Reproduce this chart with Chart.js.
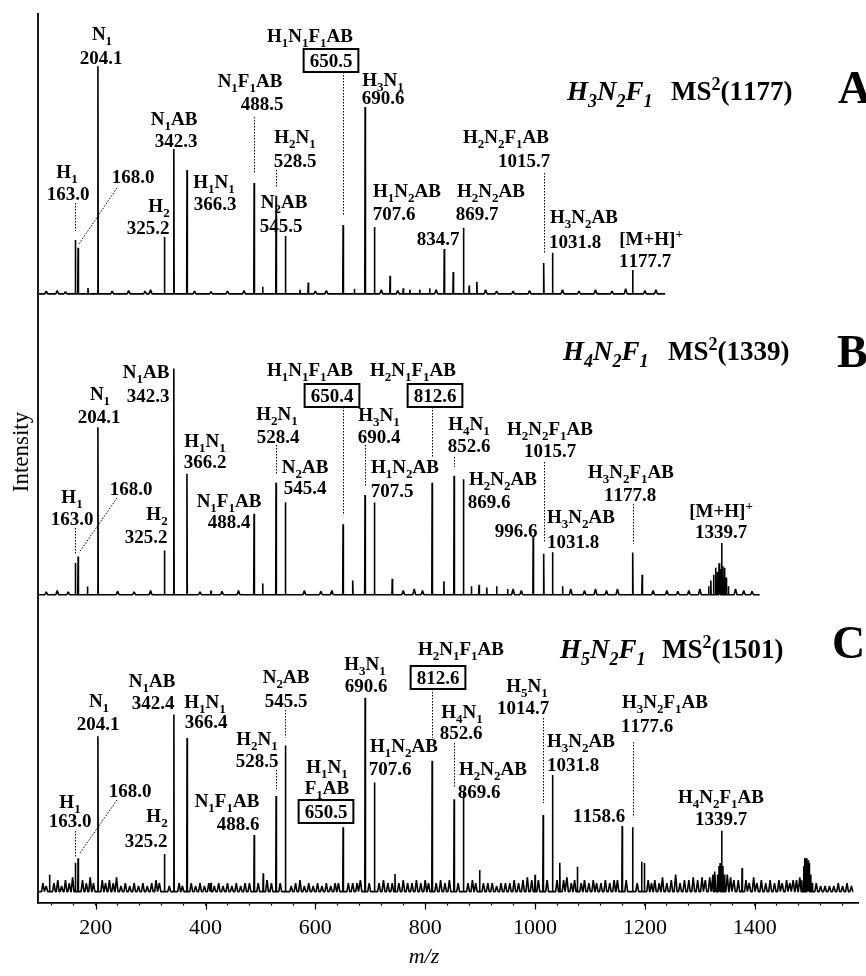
<!DOCTYPE html>
<html>
<head>
<meta charset="utf-8">
<script src="https://cdn.jsdelivr.net/npm/chart.js@4.4.1/dist/chart.umd.min.js"></script>
<style>
  html, body { margin: 0; padding: 0; background: #fff; }
</style>
</head>
<body>
<canvas id="chart" width="866" height="976"></canvas>
<script>
// ================= DATA =================
// panel A : H3N2F1 MS2(1177)
const mzA  = [163.0, 168.0, 186, 204.1, 325.2, 342.3, 366.3, 488.5, 504, 528.5, 545.5, 572, 587, 650.5, 671, 690.6, 707.6, 736, 760, 772, 790, 808, 834.7, 851, 869.7, 880, 894, 1015.7, 1031.8, 1177.7];
const intA = [19.2, 16.4, 2.1, 81, 20.3, 51.6, 44.1, 39.5, 2.5, 34.9, 20.6, 1.5, 4, 24.5, 1.8, 66.5, 23.8, 6.4, 2, 1.5, 1.5, 2, 16, 7.8, 23.5, 3, 4.3, 11, 14.6, 8.5];
const noiseA = [[110, 1], [130, 1.2], [145, 0.8], [230, 1], [260, 1.2], [290, 1], [300, 1.5], [380, 1], [410, 0.8], [440, 1], [470, 1.2],
  [600, 1], [620, 1.2], [720, 1.5], [750, 1.2], [820, 1.5], [910, 1.5], [930, 1], [960, 1], [990, 1.2], [1050, 1.5], [1080, 1],
  [1110, 1.5], [1140, 1], [1165, 1.8], [1200, 1.2], [1220, 1.5]];

// panel B : H4N2F1 MS2(1339)
const mzB  = [163.0, 168.0, 185, 204.1, 325.2, 342.3, 366.2, 410, 488.4, 504, 528.4, 545.4, 650.4, 668, 690.4, 707.5, 740, 812.6, 834, 852.6, 869.6, 884, 898, 912, 930, 950,
  996.6, 1015.7, 1031.8, 1050, 1177.8, 1195, 1316, 1320, 1325, 1329, 1332, 1335, 1337, 1339.7, 1342, 1345, 1348, 1352];
const intB = [11.1, 13.4, 2.9, 58.7, 15.5, 79.3, 42.4, 1.5, 28.4, 3.9, 39.3, 32.4, 24.7, 5, 35, 32.3, 5.6, 39.3, 4.7, 41.7, 40.5, 3, 3.5, 2.5, 3, 2,
  20.8, 14.4, 14.9, 3, 14.8, 7, 3, 5, 7, 9.5, 8, 11, 9, 18.1, 10, 9.5, 6, 3];
const noiseB = [[110, 1], [130, 1.5], [150, 1], [240, 1.2], [270, 1], [300, 1.5], [390, 1], [430, 1.2], [460, 1.5], [580, 1.5], [610, 1.2],
  [630, 1.5], [760, 1.5], [780, 2], [795, 1.5], [960, 2], [975, 1.5], [1065, 2], [1090, 1.5], [1110, 2], [1130, 1.5], [1150, 2],
  [1215, 1.5], [1240, 1.5], [1260, 1.2], [1280, 1.5], [1300, 2], [1365, 2], [1380, 1.5], [1395, 1.2]];

// panel C : H5N2F1 MS2(1501)
const mzC  = [116, 163.0, 168.0, 204.1, 325.2, 342.4, 366.4, 410, 488.6, 505, 528.5, 545.5, 650.5, 690.6, 707.6, 745, 812.6, 852.6, 869.6, 899,
  1000, 1014.7, 1031.8, 1045, 1077, 1158.6, 1177.6, 1194, 1199, 1332, 1335, 1337, 1339.7, 1342, 1345, 1377,
  1486, 1489, 1491, 1493, 1495, 1497, 1499, 1502, 1505];
const intC = [5.9, 10.1, 11.7, 54.4, 13.2, 62, 53.8, 3.1, 19.8, 6.4, 33.5, 51.2, 22.5, 67.9, 38.2, 6.2, 45.8, 32.3, 35, 7.6,
  5.9, 26.8, 40.8, 10.1, 8.7, 23, 22.5, 10.5, 10, 6, 9, 10, 21.3, 9, 6, 8.3,
  4, 9, 11.8, 11.5, 11.8, 11, 10, 6, 3];
const noiseC = [[104, 3], [110, 2], [124, 3], [131, 4], [138, 2], [145, 4], [152, 3], [158, 5], [176, 4], [183, 3], [190, 5], [196, 3],
  [212, 4], [218, 3], [225, 4], [232, 3], [238, 5], [246, 2], [254, 3], [262, 2], [270, 3], [278, 2], [286, 3], [294, 2], [302, 3],
  [310, 4], [316, 3], [334, 2], [352, 3], [358, 2], [374, 3], [382, 2], [390, 3], [398, 2], [406, 3], [416, 2], [424, 3], [432, 2],
  [440, 3], [448, 2], [456, 3], [464, 2], [472, 3], [480, 3], [496, 3], [512, 4], [520, 3], [536, 3], [556, 2], [564, 3], [572, 4],
  [580, 2], [588, 3], [596, 2], [604, 3], [612, 2], [620, 3], [628, 2], [636, 3], [642, 3], [660, 3], [668, 3], [676, 3], [682, 4],
  [698, 3], [716, 3], [724, 4], [732, 3], [740, 3], [752, 3], [760, 4], [768, 3], [776, 3], [784, 4], [792, 3], [800, 4], [806, 3],
  [820, 3], [828, 4], [836, 3], [844, 4], [860, 3], [878, 3], [886, 4], [892, 3], [906, 3], [914, 3], [922, 3], [930, 2], [938, 3],
  [946, 3], [954, 3], [962, 4], [970, 3], [978, 4], [986, 5], [994, 4], [1006, 4], [1022, 4], [1040, 4], [1052, 4], [1058, 5],
  [1066, 3], [1072, 4], [1084, 3], [1090, 4], [1098, 3], [1106, 4], [1112, 3], [1120, 3], [1128, 4], [1136, 3], [1144, 4], [1150, 4],
  [1166, 4], [1186, 3], [1206, 4], [1212, 3], [1218, 4], [1226, 3], [1232, 5], [1240, 3], [1248, 4], [1256, 6], [1264, 3], [1272, 4],
  [1280, 4], [1288, 5], [1296, 4], [1304, 5], [1310, 4], [1318, 5], [1324, 6], [1327, 7], [1350, 6], [1356, 5], [1362, 4], [1370, 4],
  [1384, 4], [1390, 3], [1398, 5], [1404, 3], [1412, 4], [1420, 3], [1428, 4], [1436, 3], [1444, 4], [1450, 3], [1458, 4], [1464, 3],
  [1470, 4], [1476, 4], [1482, 5], [1512, 3], [1520, 2], [1528, 2], [1536, 2], [1544, 2], [1552, 3], [1560, 2], [1568, 3], [1576, 2]];

// where each recorded trace starts / stops on the m/z axis
const rangeA = [97, 1237];
const rangeB = [97, 1409];
const rangeC = [97, 1579];

const xTicks = [200, 400, 600, 800, 1000, 1200, 1400];

// ================= LABELS (layout) =================
// lines: [text, centre x, baseline y]; box: index of boxed line; lead: top of dotted leader; diag: start of slanted leader
const notesA = [
  { mz: 163.0, lines: [["H_1", 67, 178], ["163.0", 68, 200]], lead: 203 },
  { mz: 168.0, lines: [["168.0", 133, 183]], diag: [117, 188] },
  { mz: 204.1, lines: [["N_1", 102, 40], ["204.1", 101, 64]] },
  { mz: 342.3, lines: [["N_1AB", 174, 125], ["342.3", 176, 147]] },
  { mz: 325.2, lines: [["H_2", 159, 212], ["325.2", 148, 234]] },
  { mz: 366.3, lines: [["H_1N_1", 214, 188], ["366.3", 215, 210]] },
  { mz: 488.5, lines: [["N_1F_1AB", 250, 87], ["488.5", 262, 110]], lead: 117 },
  { mz: 528.5, lines: [["H_2N_1", 295, 143], ["528.5", 295, 167]], lead: 170 },
  { mz: 545.5, lines: [["N_2AB", 284, 208], ["545.5", 281, 232]] },
  { mz: 650.5, lines: [["H_1N_1F_1AB", 310, 42], ["650.5", 331, 67]], box: 1, lead: 72 },
  { mz: 690.6, lines: [["H_3N_1", 383, 86], ["690.6", 383, 104]] },
  { mz: 707.6, lines: [["H_1N_2AB", 407, 197], ["707.6", 394, 220]] },
  { mz: 834.7, lines: [["834.7", 438, 245]] },
  { mz: 869.7, lines: [["H_2N_2AB", 491, 197], ["869.7", 477, 220]] },
  { mz: 1015.7, lines: [["H_2N_2F_1AB", 506, 143], ["1015.7", 524, 167]], lead: 173 },
  { mz: 1031.8, lines: [["H_3N_2AB", 584, 223], ["1031.8", 575, 248]] },
  { mz: 1177.7, lines: [["[M+H]^+", 651, 245], ["1177.7", 645, 267]] }
];

const notesB = [
  { mz: 163.0, lines: [["H_1", 72, 503], ["163.0", 72, 525]], lead: 528 },
  { mz: 168.0, lines: [["168.0", 131, 495]], diag: [117, 498] },
  { mz: 204.1, lines: [["N_1", 100, 400], ["204.1", 99, 423]] },
  { mz: 342.3, lines: [["N_1AB", 146, 378], ["342.3", 148, 402]] },
  { mz: 325.2, lines: [["H_2", 157, 520], ["325.2", 146, 543]] },
  { mz: 366.2, lines: [["H_1N_1", 205, 447], ["366.2", 205, 468]] },
  { mz: 488.4, lines: [["N_1F_1AB", 229, 507], ["488.4", 229, 528]] },
  { mz: 528.4, lines: [["H_2N_1", 277, 420], ["528.4", 278, 443]], lead: 445 },
  { mz: 545.4, lines: [["N_2AB", 305, 473], ["545.4", 305, 494]] },
  { mz: 650.4, lines: [["H_1N_1F_1AB", 310, 376], ["650.4", 332, 402]], box: 1, lead: 407 },
  { mz: 690.4, lines: [["H_3N_1", 379, 421], ["690.4", 379, 443]], lead: 445 },
  { mz: 707.5, lines: [["H_1N_2AB", 405, 473], ["707.5", 392, 497]] },
  { mz: 812.6, lines: [["H_2N_1F_1AB", 413, 376], ["812.6", 435, 402]], box: 1, lead: 407, gap: 25 },
  { mz: 852.6, lines: [["H_4N_1", 469, 430], ["852.6", 469, 452]], lead: 457 },
  { mz: 869.6, lines: [["H_2N_2AB", 503, 485], ["869.6", 489, 508]] },
  { mz: 1015.7, lines: [["H_2N_2F_1AB", 550, 435], ["1015.7", 550, 457]], lead: 462, gap: 12 },
  { mz: 996.6, lines: [["996.6", 516, 537]] },
  { mz: 1031.8, lines: [["H_3N_2AB", 581, 523], ["1031.8", 573, 548]] },
  { mz: 1177.8, lines: [["H_3N_2F_1AB", 631, 478], ["1177.8", 630, 501]], lead: 504 },
  { mz: 1339.7, lines: [["[M+H]^+", 721, 517], ["1339.7", 721, 538]] }
];

const notesC = [
  { mz: 163.0, lines: [["H_1", 70, 808], ["163.0", 70, 827]], lead: 831, gap: 6 },
  { mz: 168.0, lines: [["168.0", 130, 797]], diag: [117, 800] },
  { mz: 204.1, lines: [["N_1", 99, 707], ["204.1", 98, 730]] },
  { mz: 342.4, lines: [["N_1AB", 152, 687], ["342.4", 153, 709]] },
  { mz: 325.2, lines: [["H_2", 157, 822], ["325.2", 146, 847]] },
  { mz: 366.4, lines: [["H_1N_1", 205, 708], ["366.4", 206, 728]] },
  { mz: 488.6, lines: [["N_1F_1AB", 227, 807], ["488.6", 238, 830]] },
  { mz: 528.5, lines: [["H_2N_1", 257, 745], ["528.5", 257, 767]], lead: 770, gap: 7 },
  { mz: 545.5, lines: [["N_2AB", 286, 683], ["545.5", 286, 707]], lead: 710, gap: 8 },
  { mz: 650.5, lines: [["H_1N_1", 327, 773], ["F_1AB", 327, 794], ["650.5", 326, 818]], box: 2 },
  { mz: 690.6, lines: [["H_3N_1", 365, 670], ["690.6", 366, 692]] },
  { mz: 707.6, lines: [["H_1N_2AB", 404, 752], ["707.6", 390, 775]] },
  { mz: 812.6, lines: [["H_2N_1F_1AB", 461, 655], ["812.6", 438, 684]], box: 1, lead: 689, gap: 23 },
  { mz: 852.6, lines: [["H_4N_1", 462, 718], ["852.6", 461, 739]], lead: 743, gap: 12 },
  { mz: 869.6, lines: [["H_2N_2AB", 493, 775], ["869.6", 479, 798]] },
  { mz: 1014.7, lines: [["H_5N_1", 527, 692], ["1014.7", 523, 714]], lead: 718, gap: 12 },
  { mz: 1031.8, lines: [["H_3N_2AB", 581, 747], ["1031.8", 573, 771]] },
  { mz: 1158.6, lines: [["1158.6", 599, 822]] },
  { mz: 1177.6, lines: [["H_3N_2F_1AB", 665, 708], ["1177.6", 647, 732]], lead: 742, gap: 10 },
  { mz: 1339.7, lines: [["H_4N_2F_1AB", 721, 803], ["1339.7", 721, 825]] }
];

// panel titles: formula, MS text, letter and where they sit
const titles = [
  { f: "H_3N_2F_1", ms: "MS^2(1177)", tag: "A", fx: 567, mx: 671, y: 100, tx: 838, ty: 103 },
  { f: "H_4N_2F_1", ms: "MS^2(1339)", tag: "B", fx: 563, mx: 668, y: 360, tx: 837, ty: 367 },
  { f: "H_5N_2F_1", ms: "MS^2(1501)", tag: "C", fx: 560, mx: 662, y: 658, tx: 832, ty: 658 }
];

// ================= HELPERS =================
const SERIF = '"Liberation Serif", "Times New Roman", serif';

function buildTrace(mz, inten, noise, range) {
  const pts = [{ x: range[0], y: 0 }, { x: range[1], y: 0 }];
  mz.forEach((m, i) => {
    pts.push({ x: m - 0.6, y: 0 }, { x: m, y: inten[i] }, { x: m + 0.6, y: 0 });
  });
  noise.forEach(([m, h]) => {
    pts.push({ x: m - 2.6, y: 0 }, { x: m, y: h }, { x: m + 2.6, y: 0 });
  });
  return pts.sort((a, b) => a.x - b.x);
}

// text with _x subscripts and ^x superscripts
function drawRich(ctx, str, x, y, opt) {
  const size = opt.size;
  const style = (opt.italic ? "italic " : "") + (opt.bold === false ? "" : "bold ");
  const big = style + size + "px " + SERIF;
  const small = style + Math.round(size * 0.66) + "px " + SERIF;
  const parts = [];
  for (let i = 0; i < str.length; i++) {
    const c = str[i];
    if ((c === "_" || c === "^") && i + 1 < str.length) {
      parts.push({ t: str[i + 1], k: c });
      i++;
    } else {
      parts.push({ t: c, k: "" });
    }
  }
  let w = 0;
  parts.forEach(p => {
    ctx.font = p.k ? small : big;
    p.w = ctx.measureText(p.t).width;
    w += p.w;
  });
  let cx = opt.align === "left" ? x : x - w / 2;
  const left = cx;
  ctx.textAlign = "left";
  ctx.textBaseline = "alphabetic";
  parts.forEach(p => {
    ctx.font = p.k ? small : big;
    const dy = p.k === "_" ? size * 0.27 : (p.k === "^" ? -size * 0.38 : 0);
    ctx.fillText(p.t, cx, y + dy);
    cx += p.w;
  });
  return { left: left, width: w };
}

// ================= CHART =================
const panels = {
  yA: { mz: mzA, inten: intA, notes: notesA },
  yB: { mz: mzB, inten: intB, notes: notesB },
  yC: { mz: mzC, inten: intC, notes: notesC }
};

const annotate = {
  id: "annotate",
  afterDatasetsDraw(chart) {
    const ctx = chart.ctx;
    const xs = chart.scales.x;
    const area = chart.chartArea;
    ctx.save();
    ctx.fillStyle = "#000";
    ctx.strokeStyle = "#000";

    // left axis line running through all three panels
    ctx.lineWidth = 1.8;
    ctx.beginPath();
    ctx.moveTo(area.left, area.top);
    ctx.lineTo(area.left, area.bottom + 1);
    ctx.stroke();

    // longer marks on labelled ticks
    ctx.lineWidth = 1.2;
    xTicks.forEach(v => {
      const px = Math.round(xs.getPixelForValue(v)) + 0.5;
      ctx.beginPath();
      ctx.moveTo(px, area.bottom);
      ctx.lineTo(px, area.bottom + 7);
      ctx.stroke();
    });

    Object.keys(panels).forEach(id => {
      const ys = chart.scales[id];
      const p = panels[id];
      p.notes.forEach(n => {
        const i = p.mz.indexOf(n.mz);
        const px = xs.getPixelForValue(n.mz);
        const top = ys.getPixelForValue(p.inten[i]);
        n.lines.forEach(([t, cx, by], j) => {
          const r = drawRich(ctx, t, cx, by, { size: 19 });
          if (n.box === j) {
            ctx.setLineDash([]);
            ctx.lineWidth = 2;
            ctx.strokeRect(r.left - 6, by - 18, r.width + 12, 23);
          }
        });
        ctx.lineWidth = 1;
        ctx.setLineDash([1.5, 1.5]);
        if (n.lead !== undefined) {
          ctx.beginPath();
          ctx.moveTo(Math.round(px) + 0.5, n.lead);
          ctx.lineTo(Math.round(px) + 0.5, top - (n.gap || 9));
          ctx.stroke();
        }
        if (n.diag) {
          ctx.beginPath();
          ctx.moveTo(n.diag[0], n.diag[1]);
          ctx.lineTo(px + 1, top - 4);
          ctx.stroke();
        }
        ctx.setLineDash([]);
      });
    });

    titles.forEach(t => {
      drawRich(ctx, t.f, t.fx, t.y, { size: 27, italic: true, align: "left" });
      drawRich(ctx, t.ms, t.mx, t.y, { size: 27, align: "left" });
      ctx.font = "bold 46px " + SERIF;
      ctx.textAlign = "left";
      ctx.fillText(t.tag, t.tx, t.ty);
    });

    // axis captions
    ctx.font = "23px " + SERIF;
    ctx.textAlign = "center";
    ctx.textBaseline = "middle";
    ctx.save();
    ctx.translate(22, 452);
    ctx.rotate(-Math.PI / 2);
    ctx.fillText("Intensity", 0, 0);
    ctx.restore();
    ctx.font = "italic 22px " + SERIF;
    ctx.textBaseline = "alphabetic";
    ctx.fillText("m/z", 424, 963);
    ctx.restore();
  }
};

function yAxis(min) {
  return {
    type: "linear",
    stack: "spectra",
    stackWeight: 1,
    min: min,
    max: 100,
    ticks: { display: false },
    grid: { display: false, drawTicks: false },
    border: { display: false }
  };
}

const lineStyle = { borderColor: "#000", borderWidth: 1.6, borderJoinStyle: "bevel", pointRadius: 0, tension: 0, fill: false };

const ctx = document.getElementById("chart").getContext("2d");
new Chart(ctx, {
  type: "line",
  data: {
    datasets: [
      Object.assign({ label: "A", data: buildTrace(mzA, intA, noiseA, rangeA), yAxisID: "yA" }, lineStyle),
      Object.assign({ label: "B", data: buildTrace(mzB, intB, noiseB, rangeB), yAxisID: "yB" }, lineStyle),
      Object.assign({ label: "C", data: buildTrace(mzC, intC, noiseC, rangeC), yAxisID: "yC" }, lineStyle)
    ]
  },
  options: {
    responsive: false,
    animation: false,
    devicePixelRatio: 1,
    layout: { padding: { left: 38, right: 8, top: 13, bottom: 26 } },
    plugins: { legend: { display: false }, tooltip: { enabled: false } },
    scales: {
      x: {
        type: "linear",
        min: 95,
        max: 1588,
        ticks: {
          stepSize: 40,
          includeBounds: false,
          autoSkip: false,
          maxRotation: 0,
          padding: 9,
          color: "#000",
          font: { family: SERIF, size: 22 },
          callback: v => (xTicks.includes(v) ? String(v) : "")
        },
        grid: { display: true, drawOnChartArea: false, drawTicks: true, tickLength: 3, tickColor: "#000", tickWidth: 1.2 },
        border: { display: true, color: "#000", width: 1.8 }
      },
      // left-side stacked axes are laid out bottom-up, so C comes first
      yC: yAxis(-3.85),
      yB: yAxis(-3.97),
      yA: yAxis(-5.58)
    }
  },
  plugins: [annotate]
});
</script>
</body>
</html>
